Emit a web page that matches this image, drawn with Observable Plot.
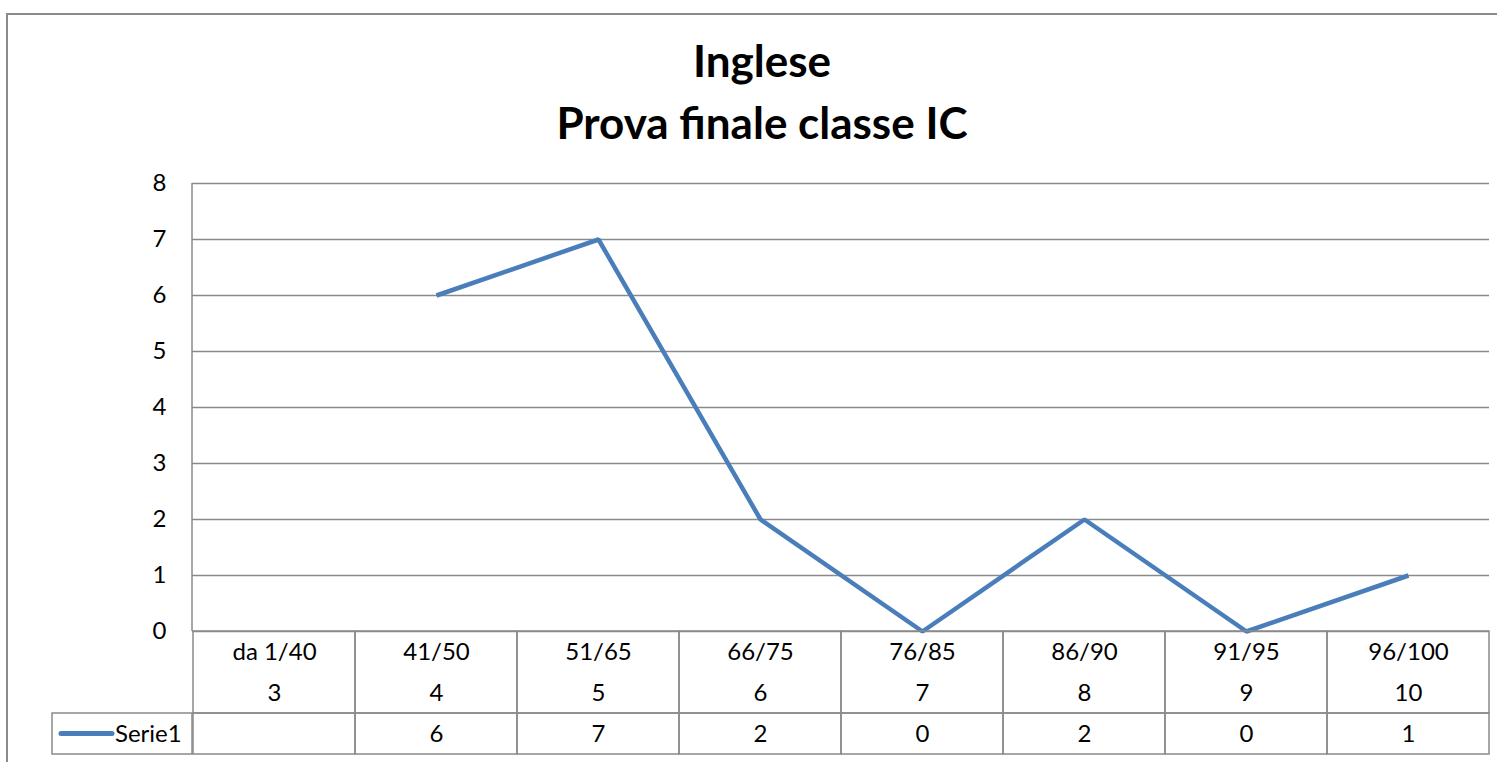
<!DOCTYPE html>
<html>
<head>
<meta charset="utf-8">
<script src="https://cdn.jsdelivr.net/npm/d3@7"></script>
<script src="https://cdn.jsdelivr.net/npm/@observablehq/plot@0.6"></script>
<style>
  html, body { margin: 0; padding: 0; background: #fff; }
  #wrap { position: relative; width: 1497px; height: 762px; overflow: hidden; font-family: Lato, "Open Sans", sans-serif; }
  #border { position: absolute; left: 6px; top: 13px; width: 1500px; height: 800px; border: 2px solid #8a8a8a; box-sizing: border-box; }
  .title { position: absolute; left: 0; width: 1524px; text-align: center; font-weight: bold; font-size: 44px; line-height: 44px; color: #000; white-space: nowrap; }
  #chart, #table { position: absolute; left: 0; }
  #chart { top: 0; }
  #table { top: 631px; }
</style>
</head>
<body>
<div id="wrap">
  <div id="border"></div>
  <div class="title" style="top:38px">Inglese</div>
  <div class="title" style="top:100px">Prova finale classe IC</div>
  <div id="chart"></div>
  <div id="table"></div>
</div>
<script>
const categories = ["da 1/40", "41/50", "51/65", "66/75", "76/85", "86/90", "91/95", "96/100"];
const grades = ["3", "4", "5", "6", "7", "8", "9", "10"];
const serie1 = [null, 6, 7, 2, 0, 2, 0, 1];
const seriesName = "Serie1";
const yTicks = [0, 1, 2, 3, 4, 5, 6, 7, 8];

const data = categories.map((c, i) => ({cat: c, grade: grades[i], value: serie1[i]}));
const gridColor = "#8a8a8a";
const lineColor = "#4a7ebb";
const font = "Lato, 'Open Sans', sans-serif";
const fs = 24;

const chart = Plot.plot({
  width: 1497,
  height: 640,
  marginLeft: 192,
  marginRight: 8,
  marginTop: 183,
  marginBottom: 9,
  style: {fontFamily: font, fontSize: fs + "px", background: "transparent", overflow: "visible"},
  x: {type: "point", domain: categories, padding: 0.5, align: 0.5, axis: null},
  y: {domain: [0, 8], ticks: yTicks},
  marks: [
    Plot.ruleY(yTicks, {stroke: gridColor, strokeWidth: 1.5}),
    Plot.axisY({ticks: yTicks, tickSize: 0, tickPadding: 26, label: null, fontSize: fs, fill: "#000"}),
    Plot.line(data, {x: "cat", y: "value", stroke: lineColor, strokeWidth: 4.5, strokeLinejoin: "miter", strokeLinecap: "butt"})
  ]
});
document.getElementById("chart").appendChild(chart);

// left axis line of the plot area
{
  const xs = chart.scale("x"), ysc = chart.scale("y");
  d3.select(chart).append("line")
    .attr("x1", xs.range[0]).attr("x2", xs.range[0])
    .attr("y1", ysc.apply(8)).attr("y2", ysc.apply(0))
    .attr("stroke", gridColor).attr("stroke-width", 1.5);
}

const table = Plot.plot({
  width: 1497,
  height: 131,
  marginLeft: 192,
  marginRight: 8,
  marginTop: 0,
  marginBottom: 8,
  style: {fontFamily: font, fontSize: fs + "px", background: "transparent", overflow: "visible"},
  x: {type: "band", domain: categories, padding: 0, axis: null},
  y: {domain: [0, 3], range: [0, 123], axis: null},
  marks: [
    Plot.barY(data, {x: "cat", y1: 0, y2: 2, fill: "none", stroke: gridColor, strokeWidth: 1.5, inset: 0}),
    Plot.barY(data, {x: "cat", y1: 2, y2: 3, fill: "none", stroke: gridColor, strokeWidth: 1.5, inset: 0}),
    Plot.text(data, {x: "cat", y: 0.5, text: "cat", fontSize: fs, fill: "#000"}),
    Plot.text(data, {x: "cat", y: 1.5, text: "grade", fontSize: fs, fill: "#000"}),
    Plot.text(data, {x: "cat", y: 2.5, text: d => d.value == null ? "" : String(d.value), fontSize: fs, fill: "#000"})
  ]
});
document.getElementById("table").appendChild(table);

// legend cell (left of the data table)
const ys = table.scale("y");
const g = d3.select(table).append("g");
g.append("rect").attr("x", 52).attr("y", ys.apply(2)).attr("width", 140).attr("height", ys.apply(3) - ys.apply(2))
  .attr("fill", "none").attr("stroke", gridColor).attr("stroke-width", 1.5);
g.append("line").attr("x1", 61).attr("x2", 112).attr("y1", ys.apply(2.5)).attr("y2", ys.apply(2.5))
  .attr("stroke", lineColor).attr("stroke-width", 5).attr("stroke-linecap", "round");
g.append("text").attr("x", 115).attr("y", ys.apply(2.5)).attr("dy", "0.35em")
  .attr("text-anchor", "start").attr("font-size", fs).attr("font-family", font).attr("fill", "#000").text(seriesName);
</script>
</body>
</html>
